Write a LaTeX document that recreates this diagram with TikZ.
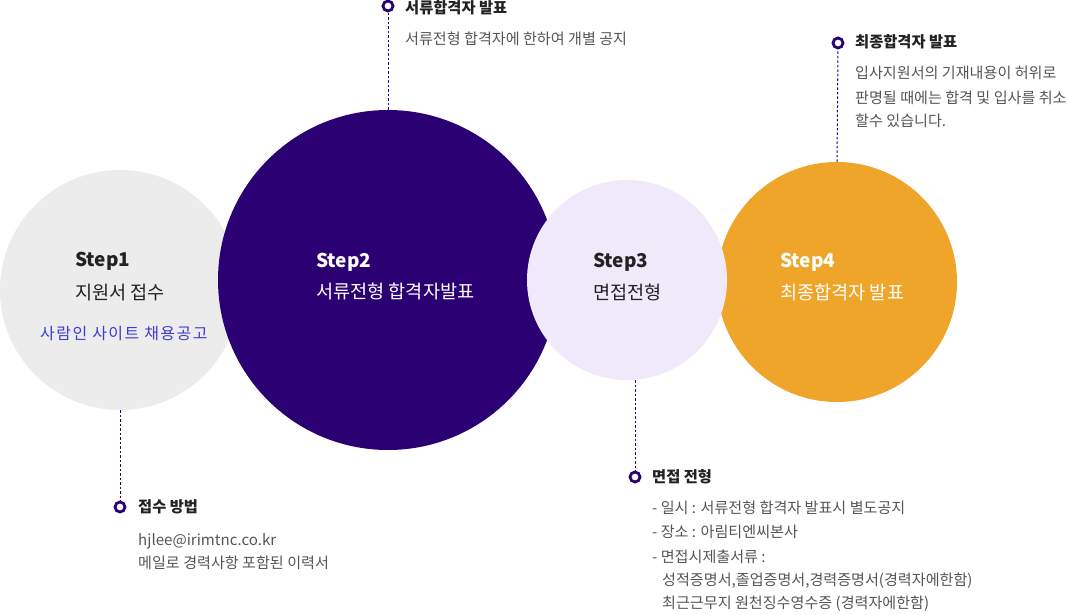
\documentclass[tikz,border=0pt]{standalone}
\usepackage{fontspec}
\setmainfont{Noto Sans CJK KR}
\usetikzlibrary{positioning}
\definecolor{night}{RGB}{42,0,114}
\definecolor{mist}{RGB}{236,236,236}
\definecolor{lilac}{RGB}{239,233,250}
\definecolor{honey}{RGB}{238,165,42}
\definecolor{linkblue}{RGB}{62,60,210}
\definecolor{ink}{RGB}{34,34,34}
\definecolor{slate}{RGB}{85,85,85}
\tikzset{
  stage/.style={circle,fill=#1,inner sep=0pt},
  stage/.default=mist,
  steptitle/.style={anchor=base west,inner sep=0pt,font=\fontsize{19}{22}\selectfont\bfseries,text=#1},
  steptitle/.default=ink,
  stepname/.style={anchor=base west,inner sep=0pt,font=\fontsize{18.6}{22}\selectfont,text=#1},
  stepname/.default=ink,
  notehead/.style={anchor=base west,inner sep=0pt,font=\fontsize{15.3}{18}\selectfont\bfseries,text=ink},
  notetext/.style={anchor=base west,inner sep=0pt,font=\fontsize{15.1}{18}\selectfont,text=slate},
  dotmark/.style={circle,draw=night,line width=2.8pt,fill=white,minimum size=10pt,inner sep=0pt},
  lead/.style={draw=night,line width=1pt,dash pattern=on 2.5pt off 2pt},
}
\begin{document}
\begin{tikzpicture}[x=1pt,y=-1pt]
  \useasboundingbox (0,0) rectangle (1067,615);
  % the four stages
  \node[stage=mist,minimum size=240pt] (s1) at (120,290) {};
  \node[stage=night,minimum size=340pt] (s2) at (388,280) {};
  \node[stage=honey,minimum size=240pt] (s4) at (837,282) {};
  \node[stage=lilac,minimum size=200pt] (s3) at (627,280) {};

  \node[steptitle] (t1) at (75,266) {Step1};
  \node[stepname] (n1) at (75,299) {지원서 접수};
  \node[anchor=base west,inner sep=0pt,text=linkblue,
    font=\fontsize{16}{19}\selectfont\addfontfeature{LetterSpace=9}] (w1) at (40,339) {사람인 사이트 채용공고};
  \node[steptitle=white] (t2) at (316,267) {Step2};
  \node[stepname=white] (n2) at (316,298) {서류전형 합격자발표};
  \node[steptitle] (t3) at (593,267) {Step3};
  \node[stepname] (n3) at (593,299) {면접전형};
  \node[steptitle=white] (t4) at (780,267) {Step4};
  \node[stepname=white] (n4) at (780,299) {최종합격자 발표};

  % markers and leaders
  \node[dotmark] (m1) at (120,507) {};
  \node[dotmark] (m2) at (388,6) {};
  \node[dotmark] (m3) at (635,477) {};
  \node[dotmark] (m4) at (838,43) {};
  \draw[lead] (s1.south) -- (m1.north);
  \draw[lead] (s2.north) -- (m2.south);
  \draw[lead] (s3.south -| m3) -- (m3.north);
  \draw[lead] (s4.north) -- (m4.south);

  % notes
  \node[notehead] (h2) at (405,14) {서류합격자 발표};
  \node[notetext] (d2) at (405,45) {서류전형 합격자에 한하여 개별 공지};

  \node[notehead] (h4) at (855,48) {최종합격자 발표};
  \foreach \t [count=\i] in {입사지원서의 기재내용이 허위로,판명될 때에는 합격 및 입사를 취소,할수 있습니다.}
    \node[notetext] (d4-\i) at (855,55+24*\i) {\t};

  \node[notehead] (h1) at (138,512) {접수 방법};
  \node[notetext] (d1-1) at (138,545) {hjlee@irimtnc.co.kr};
  \node[notetext] (d1-2) at (138,568) {메일로 경력사항 포함된 이력서};

  \node[notehead] (h3) at (652,482) {면접 전형};
  \node[notetext] (d3-1) at (652,513) {- 일시 : 서류전형 합격자 발표시 별도공지};
  \node[notetext] (d3-2) at (652,537) {- 장소 : 아림티엔씨본사};
  \node[notetext] (d3-3) at (652,562) {- 면접시제출서류 :};
  \node[notetext] (d3-4) at (662,585) {성적증명서,졸업증명서,경력증명서(경력자에한함)};
  \node[notetext] (d3-5) at (662,608) {최근근무지 원천징수영수증 (경력자에한함)};
\end{tikzpicture}
\end{document}
